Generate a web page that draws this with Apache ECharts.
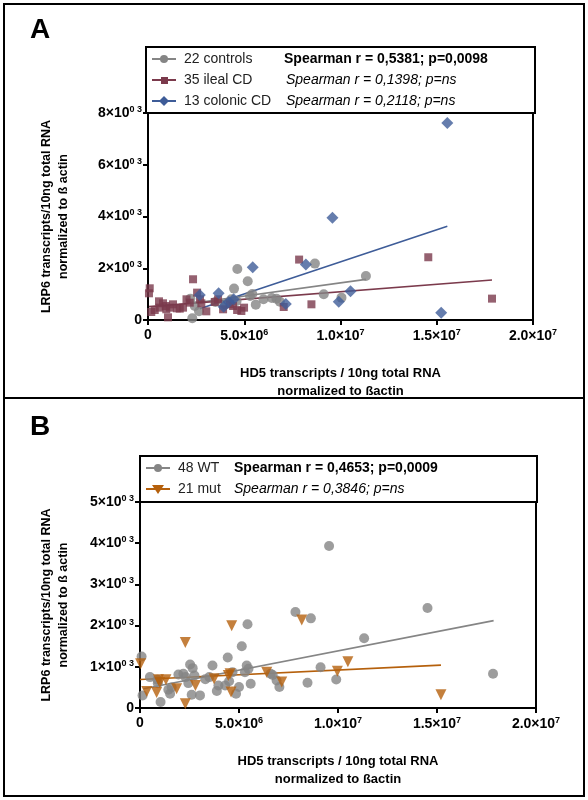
<!DOCTYPE html>
<html><head><meta charset="utf-8">
<script src="https://cdn.jsdelivr.net/npm/echarts@6/dist/echarts.min.js"></script>
<style>html,body{margin:0;padding:0;background:#fff}#c{width:588px;height:800px}</style>
</head><body><div id="c"></div>
<script>
const controlsA = [[2.3e6,65],[2.65e6,335],[2.2e6,826],[4.47e6,1213],[4.64e6,1974],[5.18e6,1496],[5.42e6,1006],[5.6e6,593],[6.43e6,851],[6.67e6,826],[6.85e6,710],[8.67e6,2180],[9.13e6,993],[10.05e6,864],[11.32e6,1703],[2.43e6,540],[4.33e6,800],[4.6e6,735],[5.3e6,930],[3.5e6,700],[6.0e6,800],[4.0e6,600]];
const ilealA = [[0.09e6,1225],[0.05e6,1032],[0.17e6,310],[0.35e6,387],[0.57e6,722],[0.78e6,645],[0.92e6,542],[1.04e6,103],[1.13e6,477],[1.3e6,606],[1.5e6,452],[1.65e6,439],[1.82e6,477],[2.0e6,800],[2.34e6,1574],[2.55e6,1058],[2.77e6,645],[3.03e6,335],[3.47e6,697],[3.9e6,413],[4.25e6,606],[4.63e6,387],[4.85e6,348],[4.99e6,477],[7.05e6,503],[7.85e6,2335],[8.49e6,606],[14.56e6,2425],[17.87e6,826],[0.6e6,477],[0.95e6,413],[2.17e6,670],[2.7e6,800],[3.64e6,800],[4.42e6,542]];
const colonicA = [[2.69e6,967],[3.67e6,1032],[3.93e6,516],[4.45e6,800],[5.44e6,2038],[7.16e6,619],[8.2e6,2141],[9.58e6,3947],[9.91e6,710],[10.52e6,1109],[15.23e6,284],[15.55e6,7611],[4.2e6,700]];
const fitControlsA = [[2.2e6,640],[11.32e6,1570]];
const fitIlealA = [[0.05e6,516],[17.87e6,1548]];
const fitColonicA = [[2.69e6,439],[15.55e6,3625]];
const wtB = [[0.08e6,1249],[0.13e6,306],[0.5e6,750],[0.88e6,685],[1.04e6,145],[1.43e6,443],[1.52e6,347],[1.94e6,814],[2.19e6,830],[2.53e6,1056],[2.66e6,967],[2.44e6,604],[2.61e6,322],[3.03e6,306],[2.75e6,790],[3.66e6,1032],[3.5e6,750],[3.88e6,411],[3.96e6,548],[4.3e6,548],[4.43e6,1225],[4.67e6,870],[4.85e6,347],[5.0e6,508],[5.14e6,1499],[5.3e6,870],[5.39e6,1032],[5.43e6,2031],[5.48e6,951],[5.59e6,588],[6.6e6,830],[6.9e6,669],[7.04e6,508],[7.85e6,2330],[8.46e6,612],[8.63e6,2176],[9.12e6,991],[9.55e6,3933],[9.91e6,693],[11.32e6,1693],[14.52e6,2426],[17.83e6,830],[0.9e6,600],[1.6e6,500],[3.3e6,700],[4.5e6,650],[6.7e6,800],[2.3e6,750]];
const mutB = [[0.03e6,1072],[0.34e6,403],[0.84e6,379],[0.93e6,685],[1.31e6,685],[1.85e6,467],[2.29e6,1588],[2.29e6,105],[2.8e6,548],[3.74e6,709],[4.46e6,790],[4.6e6,387],[4.63e6,1999],[6.4e6,870],[7.16e6,629],[8.17e6,2136],[9.97e6,895],[10.5e6,1120],[15.2e6,322],[1.0e6,620],[4.55e6,830]];
const fitWtB = [[0.17e6,467],[17.86e6,2120]];
const fitMutB = [[0,693],[15.2e6,1040]];
const xTicks = {0:'0',5000000:'5.0×10|6',10000000:'1.0×10|7',15000000:'1.5×10|7',20000000:'2.0×10|7'};

const C_GRAY='#858585', C_ILE='#7b3a4c', C_COL='#3e5c98', C_MUT='#b5600c';
const F='Liberation Sans, Arial, sans-serif';
const rich={b:{fontFamily:F,fontWeight:'bold',fontSize:14,color:'#000'},s:{fontFamily:F,fontWeight:'bold',fontSize:9,color:'#000',verticalAlign:'top',padding:[0,0,7,0]}};
function xfmt(v){const t=xTicks[v];if(t===undefined)return '';const p=t.split('|');return p.length>1?'{b|'+p[0]+'}{s|'+p[1]+'}':'{b|'+p[0]+'}';}
function yfmt(v){return v===0?'{b|0}':'{b|'+(v/1000)+'×10}{s|0 3}';}
function xAx(g){return {gridIndex:g,type:'value',min:0,max:2e7,interval:5e6,
 axisLine:{lineStyle:{color:'#000',width:2}},axisTick:{length:5,lineStyle:{color:'#000',width:2}},splitLine:{show:false},
 axisLabel:{formatter:xfmt,rich:rich,margin:8},
 name:'HD5 transcripts / 10ng total RNA\nnormalized to ßactin',nameLocation:'middle',nameGap:44,
 nameTextStyle:{fontFamily:F,fontWeight:'bold',fontSize:13,color:'#000',lineHeight:18}};}
function yAx(g,max,gap){return {gridIndex:g,type:'value',min:0,max:max,interval:(max===8000?2000:1000),
 axisLine:{lineStyle:{color:'#000',width:2}},axisTick:{length:5,lineStyle:{color:'#000',width:2}},splitLine:{show:false},
 axisLabel:{formatter:yfmt,rich:rich,margin:6},
 name:'LRP6 transcripts/10ng total RNA\nnormalized to ß actin',nameLocation:'middle',nameGap:gap,
 nameTextStyle:{fontFamily:F,fontWeight:'bold',fontSize:12.5,color:'#000',lineHeight:17}};}
function sc(name,data,g,color,sym,size){return {name,type:'scatter',xAxisIndex:g,yAxisIndex:g,data,symbol:sym,symbolSize:size,itemStyle:{color},z:3};}
function ln(data,g,color){return {type:'line',xAxisIndex:g,yAxisIndex:g,data,symbol:'none',lineStyle:{color,width:1.6},z:2,silent:true};}

function legend(x,y,rows,widthBox,hBox){
 const els=[{type:'rect',shape:{x:x,y:y,width:widthBox,height:hBox},style:{fill:'#fff',stroke:'#000',lineWidth:2}}];
 rows.forEach((r,i)=>{const cy=y+12+i*21;
  els.push({type:'line',shape:{x1:x+6,y1:cy,x2:x+30,y2:cy},style:{stroke:r.c,lineWidth:2}});
  if(r.sym==='circle')els.push({type:'circle',shape:{cx:x+18,cy:cy,r:4},style:{fill:r.c}});
  if(r.sym==='rect')els.push({type:'rect',shape:{x:x+15,y:cy-3,width:7,height:7},style:{fill:r.c}});
  if(r.sym==='diamond')els.push({type:'polygon',shape:{points:[[x+18,cy-5],[x+23,cy],[x+18,cy+5],[x+13,cy]]},style:{fill:r.c}});
  if(r.sym==='tri')els.push({type:'polygon',shape:{points:[[x+12,cy-4],[x+24,cy-4],[x+18,cy+5]]},style:{fill:r.c}});
  els.push({type:'text',x:x+38,y:cy,style:{text:r.label,fontFamily:F,fontSize:14,fill:'#222',verticalAlign:'middle'}});
  els.push({type:'text',x:x+r.sx,y:cy,style:{text:r.stat,fontFamily:F,fontSize:14,fontWeight:r.bold?'bold':'normal',fontStyle:r.bold?'normal':'italic',fill:'#000',verticalAlign:'middle'}});
 });
 return els;}

const chart=echarts.init(document.getElementById('c'));
chart.setOption({
 animation:false,backgroundColor:'#fff',
 grid:[{left:148,top:113,width:385,height:207,show:true,borderColor:'#000',borderWidth:2},
       {left:140,top:502,width:396,height:206,show:true,borderColor:'#000',borderWidth:2}],
 xAxis:[xAx(0),xAx(1)],
 yAxis:[yAx(0,8000,76),yAx(1,5000,68)],
 series:[
  ln(fitControlsA,0,C_GRAY),ln(fitIlealA,0,C_ILE),ln(fitColonicA,0,C_COL),
  sc('22 controls',controlsA,0,C_GRAY,'circle',10),
  sc('35 ileal CD',ilealA,0,C_ILE,'rect',8),
  sc('13 colonic CD',colonicA,0,C_COL,'diamond',12),
  ln(fitWtB,1,C_GRAY),ln(fitMutB,1,C_MUT),
  sc('48 WT',wtB,1,C_GRAY,'circle',10),
  sc('21 mut',mutB,1,C_MUT,'triangle',11)
 ].map(s=>{if(s.symbol==='triangle'){s.symbolRotate=180;}return s;}),
 graphic:[
  {type:'rect',shape:{x:4,y:4,width:580,height:394},style:{fill:'none',stroke:'#000',lineWidth:2}},
  {type:'rect',shape:{x:4,y:398,width:580,height:398},style:{fill:'none',stroke:'#000',lineWidth:2}},
  {type:'text',x:30,y:16,style:{text:'A',fontFamily:F,fontSize:28,fontWeight:'bold',fill:'#000'}},
  {type:'text',x:30,y:413,style:{text:'B',fontFamily:F,fontSize:28,fontWeight:'bold',fill:'#000'}},
  ...legend(146,47,[
   {c:C_GRAY,sym:'circle',label:'22 controls',stat:'Spearman r = 0,5381; p=0,0098',bold:true,sx:138},
   {c:C_ILE,sym:'rect',label:'35 ileal CD',stat:'Spearman r = 0,1398; p=ns',sx:140},
   {c:C_COL,sym:'diamond',label:'13 colonic CD',stat:'Spearman r = 0,2118; p=ns',sx:140}],389,66),
  ...legend(140,456,[
   {c:C_GRAY,sym:'circle',label:'48 WT',stat:'Spearman r = 0,4653; p=0,0009',bold:true,sx:94},
   {c:C_MUT,sym:'tri',label:'21 mut',stat:'Spearman r = 0,3846; p=ns',sx:94}],397,46)
 ]
});
</script></body></html>
